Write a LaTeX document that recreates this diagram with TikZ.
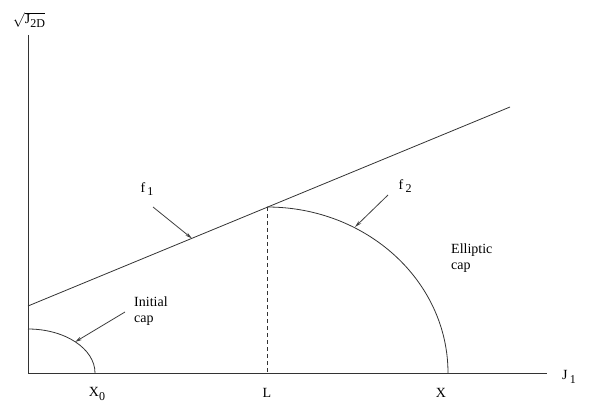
\documentclass[tikz,border=0pt]{standalone}
\usepackage{fontspec}
\setmainfont{Liberation Serif}
\usetikzlibrary{arrows.meta}
\newcommand{\lowsub}[1]{\raisebox{-3.5pt}{\fontsize{12}{13}\selectfont #1}}
\begin{document}
\begin{tikzpicture}[x=1pt,y=-1pt,
  axisline/.style={line width=0.9pt,draw=black!80},
  curve/.style={line width=0.8pt,draw=black!80},
  leader/.style={line width=0.8pt,draw=black!75,-{Stealth[length=7pt,width=3.5pt]}},
  lbl/.style={inner sep=0pt,font=\fontsize{14}{16}\selectfont},
  txt/.style={inner sep=0pt,font=\fontsize{14}{16}\selectfont,align=left,anchor=north west}]
\useasboundingbox (0,0) rectangle (602,401);
% coordinates
\coordinate (O) at (28,373);
\coordinate (Ytop) at (28,35);
\coordinate (Xend) at (547,373);
\coordinate (F1a) at (28,306);
\coordinate (F1b) at (510,107);
\coordinate (Ltop) at (267,207);
\coordinate (Lbase) at (267,373);
\coordinate (Ictop) at (28,329);
\coordinate (A1s) at (153,207);
\coordinate (A1e) at (192,238.5);
\coordinate (A2s) at (388,195);
\coordinate (A2e) at (355,227);
\coordinate (A3s) at (125,312);
\coordinate (A3e) at (75,342);
% axes
\draw[axisline] (Ytop) -- (O) -- (Xend);
% f1 line
\draw[curve] (F1a) -- (F1b);
% dashed L
\draw[curve,dash pattern=on 4pt off 3pt] (Ltop) -- (Lbase);
% elliptic cap
\draw[curve] (Ltop) arc[start angle=-90,end angle=0,x radius=181,y radius=166];
% initial cap
\draw[curve] (Ictop) arc[start angle=-90,end angle=0,x radius=67,y radius=44];
% leaders
\draw[leader] (A1s) -- (A1e);
\draw[leader] (A2s) -- (A2e);
\draw[leader] (A3s) -- (A3e);
% labels
\node[lbl] (yl) at (29,20) {$\sqrt{\hbox{J\lowsub{2D}}}$};
\node[lbl] (xl) at (569,377) {J\,\lowsub{1}};
\node[lbl] (f1) at (147,189) {f\,\lowsub{1}};
\node[lbl] (f2) at (405,186) {f\,\lowsub{2}};
\node[txt] (ic) at (134,297) {Initial\\cap};
\node[txt] (ec) at (451,244) {Elliptic\\cap};
\node[lbl] (x0) at (97,394) {X\lowsub{0}};
\node[lbl] (ll) at (267,393) {L};
\node[lbl] (xx) at (441,393) {X};
\end{tikzpicture}
\end{document}
